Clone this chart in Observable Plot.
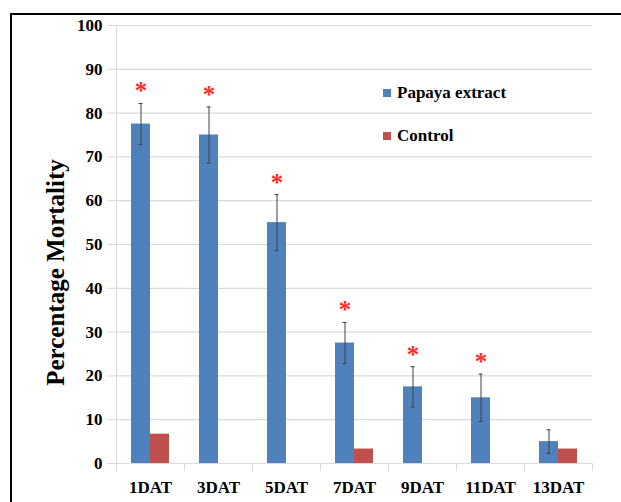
<!DOCTYPE html>
<html><head><meta charset="utf-8">
<script src="https://cdn.jsdelivr.net/npm/d3@7"></script>
<script src="https://cdn.jsdelivr.net/npm/@observablehq/plot@0.6"></script>
<style>
body{margin:0;background:#fff;}
#wrap{position:relative;width:621px;height:502px;overflow:hidden;font-family:"Liberation Serif","Times New Roman",serif;}
#chart{position:absolute;left:0;top:0;}
#border{position:absolute;left:9.5px;top:13px;width:700px;height:600px;border:2.8px solid #000;pointer-events:none;}
.leg{position:absolute;font-weight:bold;font-size:17px;line-height:20px;color:#000;white-space:nowrap;}
.sw{display:inline-block;width:8px;height:8px;margin-right:6px;vertical-align:1px;}
</style></head>
<body><div id="wrap"><div id="chart"></div><div id="border"></div><div id="legend"></div></div>
<script>
const categories = ["1DAT","3DAT","5DAT","7DAT","9DAT","11DAT","13DAT"];
const series = ["Papaya extract","Control"];
const papaya = [77.5, 75, 55, 27.5, 17.5, 15, 5];
const papayaErr = [4.7, 6.4, 6.4, 4.7, 4.6, 5.4, 2.7];
const control = [6.7, 0, 0, 3.3, 0, 0, 3.3];
const significant = [true, true, true, true, true, true, false];
const yTicks = [0, 10, 20, 30, 40, 50, 60, 70, 80, 90, 100];
const colors = ["#4f81bd", "#c0504d"];

const rows = categories.flatMap((c, i) => [
  {cat: c, series: series[0], value: papaya[i]},
  {cat: c, series: series[1], value: control[i]}
]);
const papRows = categories.map((c, i) => ({
  cat: c, series: series[0], lo: papaya[i] - papayaErr[i], hi: papaya[i] + papayaErr[i], sig: significant[i]
}));
const sigRows = papRows.filter(d => d.sig);

const font = '"Liberation Serif","Times New Roman",serif';
const grid = "#d9d9d9";

const chart = Plot.plot({
  width: 621, height: 502,
  marginLeft: 114, marginRight: 27, marginTop: 25, marginBottom: 39,
  style: {fontFamily: font, background: "transparent", color: "#000"},
  fx: {domain: categories, padding: 0, label: null},
  x: {domain: series, paddingInner: 0, paddingOuter: 0.76, axis: null},
  y: {domain: [0, 100], label: null},
  color: {domain: series, range: colors},
  marks: [
    Plot.gridY(yTicks, {stroke: grid, strokeOpacity: 1, strokeWidth: 1.2}),
    Plot.axisY(yTicks, {tickSize: 9, stroke: grid, strokeOpacity: 1, fill: "#000", tickPadding: 5, fontSize: 17, fontWeight: "bold", label: null}),
    Plot.frame({anchor: "left", facet: "super", stroke: grid, strokeOpacity: 1}),
    Plot.frame({anchor: "left", insetTop: 438, insetBottom: -7, stroke: grid, strokeOpacity: 1}),
    Plot.frame({anchor: "right", insetTop: 438, insetBottom: -7, stroke: grid, strokeOpacity: 1}),
    Plot.ruleY([0], {stroke: grid, strokeWidth: 1.2}),
    Plot.barY(rows, {fx: "cat", x: "series", y: "value", fill: "series"}),
    Plot.ruleX(papRows, {fx: "cat", x: "series", y1: "lo", y2: "hi", stroke: "#404040", strokeWidth: 1}),
    Plot.tickY(papRows, {fx: "cat", x: "series", y: "hi", stroke: "#404040", insetLeft: 7.5, insetRight: 7.5}),
    Plot.tickY(papRows, {fx: "cat", x: "series", y: "lo", stroke: "#404040", insetLeft: 7.5, insetRight: 7.5}),
    Plot.text(sigRows, {fx: "cat", x: "series", y: "hi", text: () => "*", fill: "#ff2a2a", fontSize: 25, fontWeight: "bold", dy: -12}),
    Plot.axisFx({anchor: "bottom", tickSize: 0, tickPadding: 17, fontSize: 17, fontWeight: "bold", label: null}),
    Plot.text(["Percentage Mortality"], {facet: "super", frameAnchor: "left", textAnchor: "middle", rotate: -90, dx: -61, dy: 28, fontSize: 25, fontWeight: "bold"})
  ]
});
document.getElementById("chart").appendChild(chart);

const legend = document.getElementById("legend");
const legendPos = [[383, 83], [383, 126]];
series.forEach((s, i) => {
  const d = document.createElement("div");
  d.className = "leg";
  d.style.left = legendPos[i][0] + "px";
  d.style.top = legendPos[i][1] + "px";
  d.innerHTML = `<span class="sw" style="background:${colors[i]}"></span>${s}`;
  legend.appendChild(d);
});
</script>
</body></html>
